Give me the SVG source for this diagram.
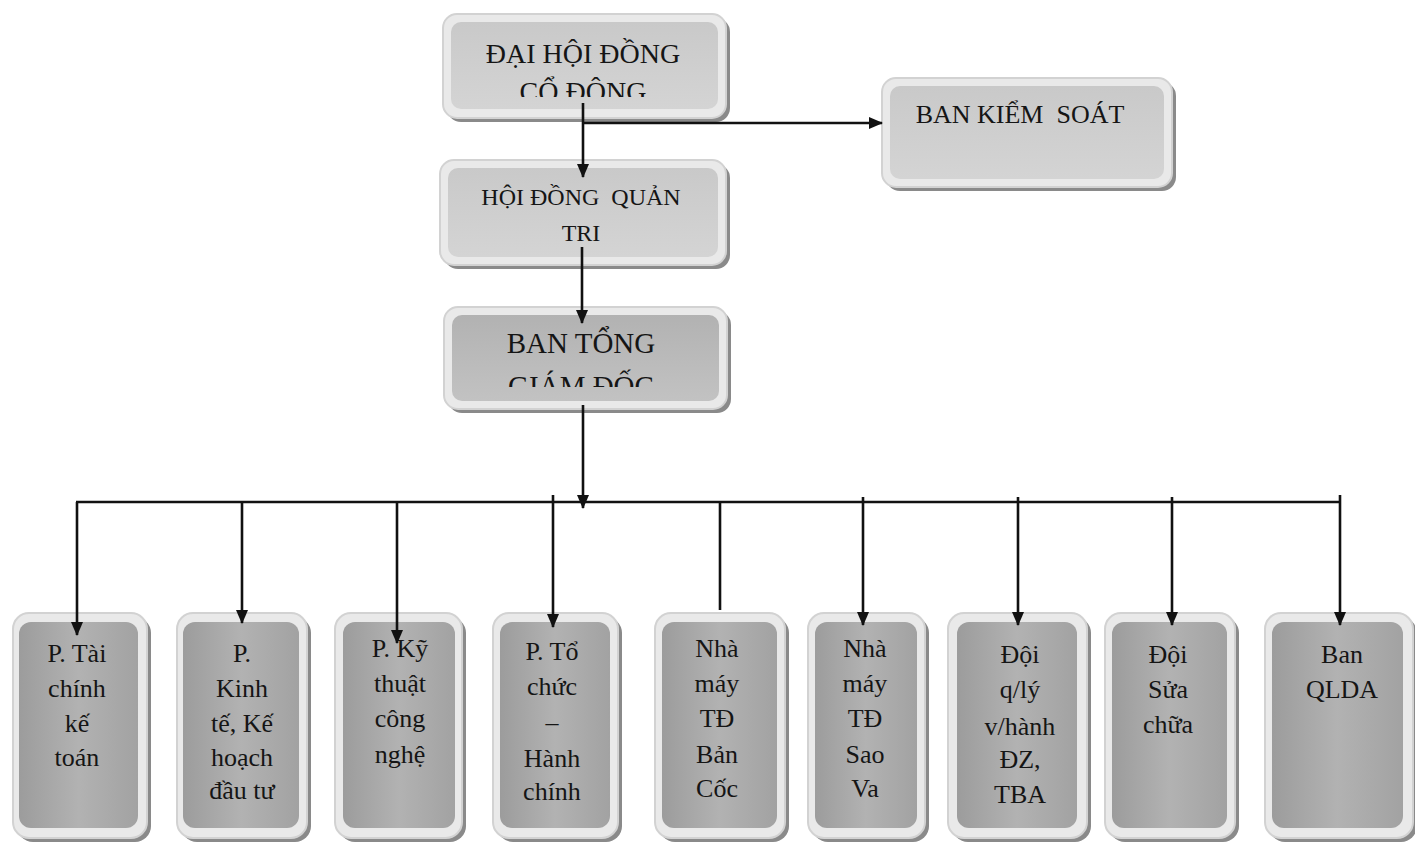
<svg xmlns="http://www.w3.org/2000/svg" width="1415" height="845" viewBox="0 0 1415 845">
<style>
.t{font-family:"Liberation Serif","Times New Roman",serif;fill:#151515;text-anchor:middle}
.top{font-size:28px}
.mid{font-size:24px}
.bt{font-size:26px}
.outer{fill:#e9e9e9;stroke:#d2d2d2;stroke-width:2}
.shadow{fill:#8a8a8a}
.inTop{fill:url(#gTop)}
.inDark{fill:url(#gDark)}
.inBot{fill:url(#gBot)}
.ln{stroke:#111;stroke-width:2.6;fill:none}
.arr{marker-end:url(#ah)}
</style>
<defs>
<marker id="ah" markerUnits="userSpaceOnUse" markerWidth="14" markerHeight="12" refX="13" refY="6" orient="auto">
<path d="M0,0 L14,6 L0,12 z" fill="#111"/>
</marker>
<linearGradient id="gTop" x1="0" y1="0" x2="0" y2="1">
<stop offset="0" stop-color="#c9c9c9"/><stop offset="1" stop-color="#d4d4d4"/>
</linearGradient>
<linearGradient id="gDark" x1="0" y1="0" x2="0" y2="1">
<stop offset="0" stop-color="#b2b2b2"/><stop offset="1" stop-color="#c2c2c2"/>
</linearGradient>
<linearGradient id="gBot" x1="0" y1="0" x2="1" y2="0">
<stop offset="0" stop-color="#9c9c9c"/><stop offset="0.5" stop-color="#b2b2b2"/><stop offset="1" stop-color="#a2a2a2"/>
</linearGradient>
<clipPath id="c1"><rect x="440" y="10" width="290" height="87"/></clipPath>
<clipPath id="c4"><rect x="440" y="300" width="290" height="87"/></clipPath>
</defs>
<rect width="1415" height="845" fill="#fff"/>

<g id="n-dhdcd">
<rect class="shadow" x="447" y="18" width="283" height="104" rx="14"/>
<rect class="outer" x="443" y="14" width="283" height="104" rx="14"/>
<rect class="inTop" x="451" y="22" width="267" height="87" rx="10"/>
<text class="t top" x="583" y="63">ĐẠI HỘI ĐỒNG</text>
<text class="t top" x="583" y="101" clip-path="url(#c1)">CỔ ĐÔNG</text>
</g>

<g id="n-bks">
<rect class="shadow" x="886" y="82" width="290" height="109" rx="14"/>
<rect class="outer" x="882" y="78" width="290" height="109" rx="14"/>
<rect class="inTop" x="890" y="86" width="274" height="93" rx="10"/>
<text class="t bt" x="1020" y="123" xml:space="preserve">BAN KIỂM  SOÁT</text>
</g>

<g id="n-hdqt">
<rect class="shadow" x="444" y="164" width="286" height="105" rx="14"/>
<rect class="outer" x="440" y="160" width="286" height="105" rx="14"/>
<rect class="inTop" x="448" y="168" width="270" height="89" rx="10"/>
<text class="t mid" x="581" y="205" xml:space="preserve">HỘI ĐỒNG  QUẢN</text>
<text class="t mid" x="581" y="241">TRI</text>
</g>

<g id="n-btgd">
<rect class="shadow" x="448" y="311" width="283" height="102" rx="14"/>
<rect class="outer" x="444" y="307" width="283" height="102" rx="14"/>
<rect class="inDark" x="452" y="315" width="267" height="86" rx="10"/>
<text class="t top" x="581" y="353" style="font-size:29px">BAN TỔNG</text>
<text class="t top" x="581" y="396" style="font-size:29px" clip-path="url(#c4)">GIÁM ĐỐC</text>
</g>

<g id="n-b1">
<rect class="shadow" x="17" y="617" width="134" height="225" rx="16"/>
<rect class="outer" x="13" y="613" width="134" height="225" rx="16"/>
<rect class="inBot" x="19" y="622" width="119" height="206" rx="12"/>
<text class="t bt"><tspan x="77" y="662">P. Tài</tspan><tspan x="77" y="697">chính</tspan><tspan x="77" y="732">kế</tspan><tspan x="77" y="766">toán</tspan></text>
</g>

<g id="n-b2">
<rect class="shadow" x="181" y="617" width="130" height="225" rx="16"/>
<rect class="outer" x="177" y="613" width="130" height="225" rx="16"/>
<rect class="inBot" x="183" y="622" width="116" height="206" rx="12"/>
<text class="t bt"><tspan x="242" y="662">P.</tspan><tspan x="242" y="697">Kinh</tspan><tspan x="242" y="732">tế, Kế</tspan><tspan x="242" y="766">hoạch</tspan><tspan x="242" y="799">đầu tư</tspan></text>
</g>

<g id="n-b3">
<rect class="shadow" x="339" y="617" width="127" height="225" rx="16"/>
<rect class="outer" x="335" y="613" width="127" height="225" rx="16"/>
<rect class="inBot" x="343" y="622" width="112" height="206" rx="12"/>
<text class="t bt"><tspan x="400" y="657">P. Kỹ</tspan><tspan x="400" y="692">thuật</tspan><tspan x="400" y="727">công</tspan><tspan x="400" y="763">nghệ</tspan></text>
</g>

<g id="n-b4">
<rect class="shadow" x="497" y="617" width="125" height="225" rx="16"/>
<rect class="outer" x="493" y="613" width="125" height="225" rx="16"/>
<rect class="inBot" x="500" y="622" width="110" height="206" rx="12"/>
<text class="t bt"><tspan x="552" y="660">P. Tổ</tspan><tspan x="552" y="695">chức</tspan><tspan x="552" y="731">–</tspan><tspan x="552" y="767">Hành</tspan><tspan x="552" y="800">chính</tspan></text>
</g>

<g id="n-b5">
<rect class="shadow" x="659" y="617" width="130" height="225" rx="16"/>
<rect class="outer" x="655" y="613" width="130" height="225" rx="16"/>
<rect class="inBot" x="662" y="622" width="115" height="206" rx="12"/>
<text class="t bt"><tspan x="717" y="657">Nhà</tspan><tspan x="717" y="692">máy</tspan><tspan x="717" y="727">TĐ</tspan><tspan x="717" y="763">Bản</tspan><tspan x="717" y="797">Cốc</tspan></text>
</g>

<g id="n-b6">
<rect class="shadow" x="812" y="617" width="117" height="225" rx="16"/>
<rect class="outer" x="808" y="613" width="117" height="225" rx="16"/>
<rect class="inBot" x="815" y="622" width="102" height="206" rx="12"/>
<text class="t bt"><tspan x="865" y="657">Nhà</tspan><tspan x="865" y="692">máy</tspan><tspan x="865" y="727">TĐ</tspan><tspan x="865" y="763">Sao</tspan><tspan x="865" y="797">Va</tspan></text>
</g>

<g id="n-b7">
<rect class="shadow" x="952" y="617" width="139" height="225" rx="16"/>
<rect class="outer" x="948" y="613" width="139" height="225" rx="16"/>
<rect class="inBot" x="957" y="622" width="120" height="206" rx="12"/>
<text class="t bt"><tspan x="1020" y="663">Đội</tspan><tspan x="1020" y="698">q/lý</tspan><tspan x="1020" y="735">v/hành</tspan><tspan x="1020" y="768">ĐZ,</tspan><tspan x="1020" y="803">TBA</tspan></text>
</g>

<g id="n-b8">
<rect class="shadow" x="1109" y="617" width="130" height="225" rx="16"/>
<rect class="outer" x="1105" y="613" width="130" height="225" rx="16"/>
<rect class="inBot" x="1112" y="622" width="115" height="206" rx="12"/>
<text class="t bt"><tspan x="1168" y="663">Đội</tspan><tspan x="1168" y="698">Sửa</tspan><tspan x="1168" y="733">chữa</tspan></text>
</g>

<g id="n-b9">
<rect class="shadow" x="1269" y="617" width="148" height="225" rx="16"/>
<rect class="outer" x="1265" y="613" width="148" height="225" rx="16"/>
<rect class="inBot" x="1272" y="622" width="131" height="206" rx="12"/>
<text class="t bt"><tspan x="1342" y="663">Ban</tspan><tspan x="1342" y="698">QLDA</tspan></text>
</g>

<g id="connectors">
<path class="ln arr" d="M583,103 V177"/>
<path class="ln arr" d="M583,123 H882"/>
<path class="ln arr" d="M582,247 V323"/>
<path class="ln arr" d="M583,405 V508"/>
<path class="ln" d="M76,502 H1340"/>
<path class="ln arr" d="M77,502 V635"/>
<path class="ln arr" d="M242,502 V623"/>
<path class="ln arr" d="M397,502 V643"/>
<path class="ln arr" d="M553,495 V627"/>
<path class="ln" d="M720,502 V610"/>
<path class="ln arr" d="M863,497 V625"/>
<path class="ln arr" d="M1018,497 V625"/>
<path class="ln arr" d="M1172,497 V625"/>
<path class="ln arr" d="M1340,495 V625"/>
</g>
</svg>
